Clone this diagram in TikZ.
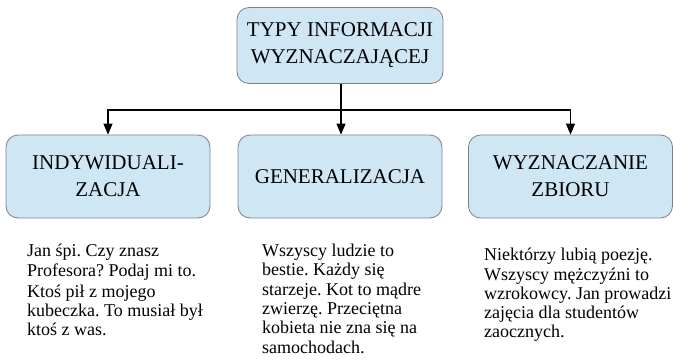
\documentclass[tikz,border=0pt]{standalone}
\usepackage{fontspec}
\setmainfont{LiberationSerif}[Extension=.ttf, UprightFont=*-Regular, BoldFont=*-Bold]
\frenchspacing
\usetikzlibrary{arrows.meta}
\definecolor{boxfill}{RGB}{207,230,245}
\definecolor{boxline}{RGB}{128,128,128}
\tikzset{
  kind/.style={draw=boxline, fill=boxfill, rounded corners=12pt, line width=0.8pt,
    minimum width=204pt, minimum height=83pt, align=center, inner sep=0pt,
    font=\rmfamily\fontsize{21}{27}\selectfont},
  example/.style={anchor=north west, align=left, inner sep=0pt,
    font=\rmfamily\fontsize{18}{19.3}\selectfont},
  link/.style={line width=1.2pt, -{Triangle[width=9pt,length=11pt]}}
}
\begin{document}
\begin{tikzpicture}[x=1pt, y=-1pt]
        \useasboundingbox (0,0) rectangle (673,362);
        % Define the nodes
        \node[kind, minimum width=206pt, minimum height=76pt] (typy) at (340,45.5)
          {TYPY INFORMACJI\\WYZNACZAJĄCEJ};

        \node[kind] (indyw) at (108,176.5) {INDYWIDUALI-\\ZACJA};
        \node[kind] (gener) at (340,176.5) {GENERALIZACJA};
        \node[kind] (zbior) at (570.5,176.5) {WYZNACZANIE\\ZBIORU};

        \coordinate (bus) at (341,110);

        \node[example] (exindyw) at (27,244)
          {Jan śpi. Czy znasz\\Profesora? Podaj mi to.\\[2pt]Ktoś pił z mojego\\kubeczka. To musiał był\\ktoś z was.};
        \node[example] (exgener) at (262,244)
          {Wszyscy ludzie to\\bestie. Każdy się\\starzeje. Kot to mądre\\zwierzę. Przeciętna\\kobieta nie zna się na\\samochodach.};
        \node[example] (exzbior) at (484,248)
          {Niektórzy lubią poezję.\\Wszyscy mężczyźni to\\wzrokowcy. Jan prowadzi\\zajęcia dla studentów\\zaocznych.};

        % Draw the edges
        \draw[link] (typy.south -| bus) -- (gener.north -| bus);
        \draw[link] (bus) -| (indyw.north);
        \draw[link] (bus) -| (zbior.north);
    \end{tikzpicture}
\end{document}
